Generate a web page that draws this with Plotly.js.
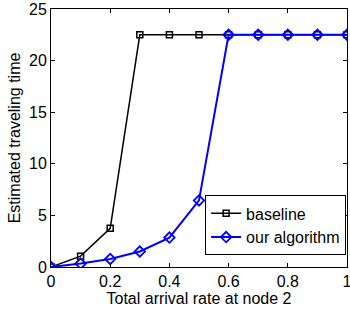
<!DOCTYPE html>
<html>
<head>
<meta charset="utf-8">
<script src="https://cdn.plot.ly/plotly-3.0.1.min.js"></script>
<style>html,body{margin:0;padding:0;background:#fff;}#chart{width:350px;height:312px;}</style>
</head>
<body>
<div id="chart"></div>
<script>
const xValues = [0, 0.1, 0.2, 0.3, 0.4, 0.5, 0.6, 0.7, 0.8, 0.9, 1.0];
const baseline = [0, 1.05, 3.75, 22.5, 22.5, 22.5, 22.5, 22.5, 22.5, 22.5, 22.5];
const ourAlgorithm = [0, 0.33, 0.78, 1.5, 2.85, 6.45, 22.5, 22.5, 22.5, 22.5, 22.5];
const seriesNames = ["baseline", "our algorithm"];
const xTicks = [0, 0.2, 0.4, 0.6, 0.8, 1];
const xTickText = ["0", "0.2", "0.4", "0.6", "0.8", "1"];
const yTicks = [0, 5, 10, 15, 20, 25];

const font = "Liberation Sans, Arial, sans-serif";
const traces = [
  {x: xValues, y: baseline, name: seriesNames[0], mode: "lines+markers",
   line: {color: "#000000", width: 1.5},
   marker: {symbol: "square-open", size: 6, color: "#000000", line: {width: 1.5}}},
  {x: xValues, y: ourAlgorithm, name: seriesNames[1], mode: "lines+markers",
   line: {color: "#0000ff", width: 2},
   marker: {symbol: "diamond-open", size: 8, color: "#0000ff", line: {width: 1.8}}}
];
const axisCommon = {showgrid: false, zeroline: false, showline: true, linecolor: "#000", linewidth: 1,
  mirror: "allticks", ticks: "inside", ticklen: 4, tickcolor: "#000",
  ticklabeloverflow: "allow",
  tickfont: {family: font, size: 16, color: "#000"}};
const layout = {
  width: 350, height: 312,
  margin: {l: 51, r: 3, t: 9, b: 45},
  paper_bgcolor: "#fff", plot_bgcolor: "#fff",
  showlegend: true,
  legend: {x: 0.997, y: 0.045, xanchor: "right", yanchor: "bottom",
    bordercolor: "#000", borderwidth: 1, bgcolor: "#fff",
    font: {family: font, size: 16, color: "#000"}, tracegroupgap: 0},
  xaxis: Object.assign({}, axisCommon, {range: [0, 1], tickvals: xTicks, ticktext: xTickText,
    title: {text: "Total arrival rate at node 2", font: {family: font, size: 16, color: "#000"}, standoff: 0}}),
  yaxis: Object.assign({}, axisCommon, {range: [0, 25], tickvals: yTicks,
    title: {text: "Estimated traveling time", font: {family: font, size: 16, color: "#000"}, standoff: 4}})
};
Plotly.newPlot("chart", traces, layout, {displayModeBar: false, staticPlot: true});
</script>
</body>
</html>
